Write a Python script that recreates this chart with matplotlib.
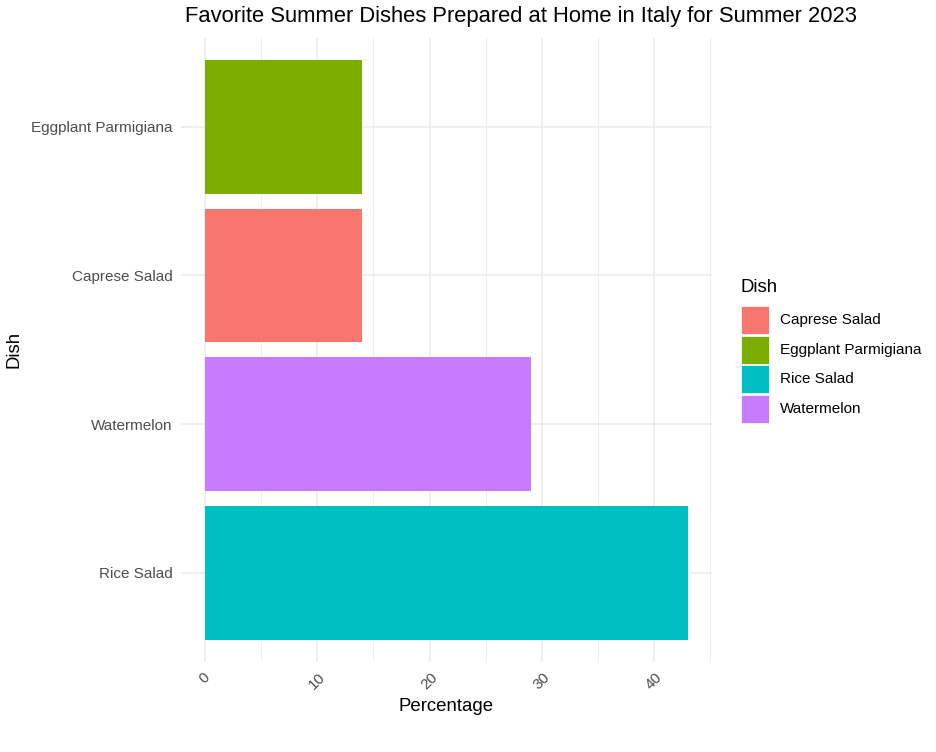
import matplotlib.pyplot as plt
from matplotlib.patches import Rectangle

# données (de bas en haut)
dishes = ["Rice Salad", "Watermelon", "Caprese Salad", "Eggplant Parmigiana"]
percentages = [43, 29, 14, 14]
legend_order = ["Caprese Salad", "Eggplant Parmigiana", "Rice Salad", "Watermelon"]
colors = {
    "Caprese Salad": "#F8766D",
    "Eggplant Parmigiana": "#7CAE00",
    "Rice Salad": "#00BFC4",
    "Watermelon": "#C77CFF",
}
x_ticks = [0, 10, 20, 30, 40]
x_minor = [5, 15, 25, 35, 45]

plt.rcParams["font.family"] = ["Liberation Sans", "DejaVu Sans"]

W, H = 937, 752
fig = plt.figure(figsize=(W / 100, H / 100), dpi=100)
ax = fig.add_axes([0.193, 0.1197, 0.567, 0.8303])

ypos = list(range(len(dishes)))
ax.barh(ypos, percentages, height=0.9,
        color=[colors[d] for d in dishes], zorder=3)

ax.set_xlim(-2.15, 45.15)
ax.set_ylim(-0.6, len(dishes) - 0.4)
ax.set_yticks(ypos)
ax.set_yticklabels(dishes)
ax.set_xticks(x_ticks)
ax.set_xticks(x_minor, minor=True)
ax.set_xticklabels([str(t) for t in x_ticks], rotation=45)

# style theme_minimal
for s in ax.spines.values():
    s.set_visible(False)
ax.tick_params(axis="both", which="both", length=0, colors="#4D4D4D",
               labelsize=11)
ax.tick_params(axis="x", pad=6)
ax.tick_params(axis="y", pad=6)
ax.grid(which="major", color="#EBEBEB", linewidth=1.1, zorder=0)
ax.grid(which="minor", axis="x", color="#EBEBEB", linewidth=0.6, zorder=0)

ax.set_xlabel("Percentage", fontsize=13.4, labelpad=4)
ax.set_ylabel("Dish", fontsize=13.4, labelpad=6)
fig.suptitle("Favorite Summer Dishes Prepared at Home in Italy for Summer 2023",
             fontsize=15.8, x=0.5555, y=0.992)

# légende dessinée à la main (carrés de 28 px comme ggplot)
fig.text(741 / W, 1 - 287 / H, "Dish", fontsize=13.4, va="center", ha="left")
for i, d in enumerate(legend_order):
    top = 306 + i * 29.5
    fig.add_artist(Rectangle((741 / W, 1 - (top + 28) / H), 28 / W, 28 / H,
                             facecolor=colors[d], edgecolor="white",
                             linewidth=0.5, transform=fig.transFigure))
    fig.text(780 / W, 1 - (top + 14) / H, d, fontsize=11,
             va="center", ha="left")

fig.savefig("out.png", dpi=100)
